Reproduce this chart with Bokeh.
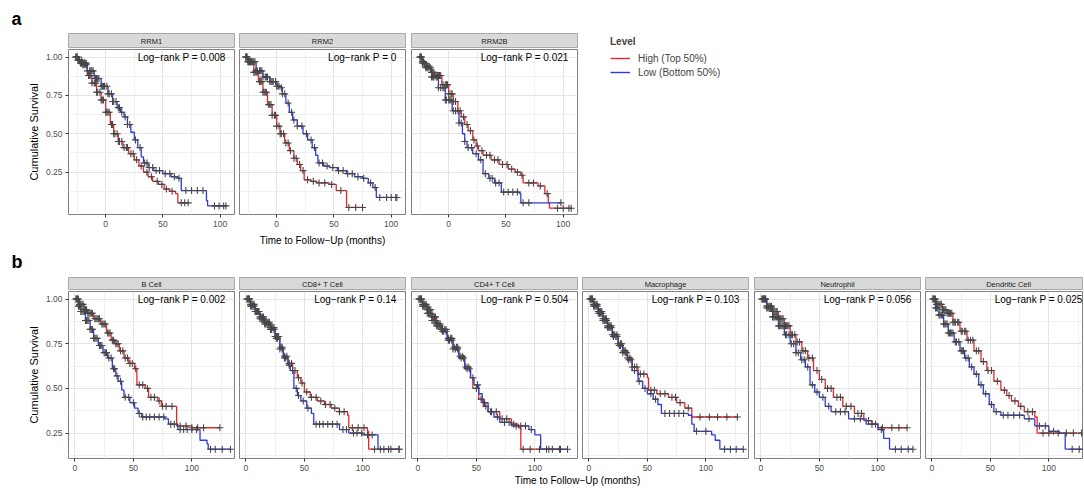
import numpy as np
from bokeh.plotting import figure
from bokeh.models import (Range1d, FixedTicker, NumeralTickFormatter, Label, Legend,
                          LegendItem, Spacer)
from bokeh.layouts import row, column
from bokeh.core.properties import value
from bokeh.embed import file_html
from bokeh.resources import INLINE

FONT = "Liberation Sans"
RED = "#e8262a"
BLUE = "#2c3be0"
CENSOR = "#474747"
BORDER = "#808080"

# ------------------------------------------------------------------ data
# Panel a : RRM genes (time axis starts below zero in the source figure)
RRM1_START = -27
RRM1_HIGH_T = [-24, -20, -16, -12, -8, -4, 0, 4, 7, 11, 15, 20, 25, 29, 33, 37, 41, 46, 51, 56, 61, 63]
RRM1_HIGH_S = [0.98, 0.95, 0.88, 0.83, 0.77, 0.72, 0.64, 0.56, 0.50, 0.45, 0.41, 0.37, 0.33, 0.29, 0.25, 0.22, 0.19, 0.17, 0.14, 0.125, 0.11, 0.05]
RRM1_HIGH_END = 72
RRM1_HIGH_CENS = [-26, -25, -24, -23, -21, -20, -19, -18, -17, -15, -14, -13, -12, -10, -9, -8, -7, -5, -4, -3, -2, 0, 1, 2, 3, 5, 6, 7, 8, 10, 11, 12, 14, 16, 18, 19, 22, 24, 27, 31, 36, 40, 45, 49, 53, 58, 66, 69, 72]
RRM1_LOW_T = [-24, -22, -16, -10, -4, 2, 6, 10, 13, 16, 19, 22, 25, 28, 31, 33, 37, 42, 50, 57, 63, 66, 88, 89]
RRM1_LOW_S = [0.98, 0.96, 0.91, 0.86, 0.81, 0.76, 0.71, 0.67, 0.64, 0.61, 0.56, 0.51, 0.46, 0.41, 0.35, 0.31, 0.28, 0.26, 0.24, 0.22, 0.21, 0.13, 0.065, 0.03]
RRM1_LOW_END = 105
RRM1_LOW_CENS = [-26, -25, -24, -23, -22, -21, -19, -18, -17, -16, -14, -13, -12, -11, -9, -8, -7, -6, -4, -3, -2, -1, 1, 2, 3, 5, 6, 7, 9, 11, 12, 14, 17, 19, 21, 26, 30, 34, 36, 38, 41, 44, 47, 52, 56, 60, 64, 70, 75, 80, 85, 95, 99, 103, 105]

RRM2_START = -28
RRM2_HIGH_T = [-25, -20, -16, -12, -8, -4, 0, 3, 7, 11, 15, 18, 21, 24, 30, 35, 46, 52, 61]
RRM2_HIGH_S = [0.97, 0.90, 0.84, 0.77, 0.69, 0.62, 0.55, 0.50, 0.44, 0.39, 0.34, 0.30, 0.26, 0.20, 0.19, 0.18, 0.17, 0.13, 0.02]
RRM2_HIGH_END = 75
RRM2_HIGH_CENS = [-27, -26, -25, -24, -23, -22, -21, -20, -19, -18, -17, -15, -14, -13, -12, -11, -10, -9, -7, -6, -5, -4, -2, -1, 0, 2, 3, 4, 6, 8, 10, 12, 15, 17, 20, 23, 27, 32, 37, 42, 48, 56, 63, 69, 75]
RRM2_LOW_T = [-25, -18, -12, -6, 0, 3, 5, 8, 11, 14, 18, 23, 27, 31, 34, 36, 41, 46, 53, 61, 68, 75, 80, 84, 87]
RRM2_LOW_S = [0.97, 0.91, 0.87, 0.84, 0.81, 0.80, 0.76, 0.70, 0.64, 0.59, 0.55, 0.50, 0.46, 0.41, 0.36, 0.31, 0.29, 0.28, 0.26, 0.24, 0.22, 0.21, 0.18, 0.15, 0.085]
RRM2_LOW_END = 105
RRM2_LOW_CENS = [-27, -26, -25, -24, -23, -22, -20, -19, -18, -17, -15, -14, -13, -12, -10, -9, -8, -6, -5, -4, -3, -1, 0, 1, 2, 4, 5, 7, 10, 13, 15, 18, 22, 26, 30, 33, 37, 40, 44, 49, 54, 58, 62, 66, 71, 76, 82, 86, 90, 96, 100, 104, 105]

RRM2B_START = -26
RRM2B_HIGH_T = [-23, -20, -16, -12, -6, 0, 4, 8, 11, 14, 17, 21, 24, 26, 30, 37, 44, 52, 58, 63, 65, 78, 84, 87, 88]
RRM2B_HIGH_S = [0.97, 0.94, 0.90, 0.88, 0.82, 0.76, 0.71, 0.65, 0.61, 0.56, 0.52, 0.46, 0.42, 0.39, 0.36, 0.33, 0.30, 0.27, 0.25, 0.23, 0.18, 0.16, 0.11, 0.05, 0.015]
RRM2B_HIGH_END = 107
RRM2B_HIGH_CENS = [-25, -24, -23, -22, -20, -19, -18, -17, -15, -14, -13, -12, -10, -9, -8, -7, -5, -3, -2, -1, 0, 2, 3, 4, 6, 8, 10, 13, 16, 19, 22, 25, 29, 33, 36, 40, 43, 47, 51, 55, 60, 64, 70, 74, 80, 86, 95, 100, 105, 107]
RRM2B_LOW_T = [-23, -20, -15, -9, -3, 3, 9, 12, 14, 16, 21, 26, 30, 35, 40, 46, 62, 63]
RRM2B_LOW_S = [0.96, 0.93, 0.87, 0.80, 0.72, 0.65, 0.57, 0.50, 0.45, 0.41, 0.37, 0.33, 0.24, 0.21, 0.18, 0.12, 0.11, 0.05]
RRM2B_LOW_END = 98
RRM2B_LOW_CENS = [-25, -24, -23, -21, -20, -19, -18, -16, -15, -14, -13, -11, -10, -9, -7, -5, -4, -3, -2, 0, 1, 2, 4, 6, 9, 11, 14, 17, 20, 24, 28, 32, 36, 38, 41, 44, 48, 52, 56, 60, 65, 70, 98]

# Panel b : immune cells
BCELL_HIGH_T = [4, 8, 11, 16, 22, 27, 31, 34, 38, 42, 46, 51, 53, 60, 63, 71, 74, 87, 100]
BCELL_HIGH_S = [0.97, 0.94, 0.92, 0.89, 0.86, 0.81, 0.77, 0.75, 0.71, 0.67, 0.64, 0.61, 0.52, 0.50, 0.45, 0.43, 0.40, 0.29, 0.28]
BCELL_HIGH_END = 124
BCELL_HIGH_CENS = [1, 2, 3, 4, 5, 6, 7, 8, 9, 10, 11, 12, 13, 14, 15, 17, 18, 19, 20, 21, 23, 24, 25, 26, 28, 29, 30, 32, 33, 35, 36, 37, 39, 41, 43, 45, 47, 49, 52, 55, 58, 62, 65, 68, 72, 75, 78, 83, 90, 95, 100, 105, 110, 124]
BCELL_LOW_T = [3, 5, 9, 13, 16, 20, 24, 28, 32, 35, 37, 40, 42, 47, 51, 54, 57, 77, 80, 88, 107, 113, 114]
BCELL_LOW_S = [0.96, 0.93, 0.88, 0.83, 0.78, 0.74, 0.70, 0.67, 0.61, 0.57, 0.54, 0.49, 0.45, 0.42, 0.39, 0.36, 0.34, 0.33, 0.30, 0.27, 0.21, 0.19, 0.16]
BCELL_LOW_END = 133
BCELL_LOW_CENS = [1, 2, 3, 4, 5, 6, 7, 8, 9, 10, 11, 12, 13, 14, 15, 16, 17, 18, 19, 21, 22, 23, 25, 26, 27, 29, 31, 33, 34, 36, 39, 43, 46, 50, 55, 58, 61, 64, 68, 72, 76, 82, 85, 90, 93, 96, 100, 104, 116, 120, 126, 133]

CD8_HIGH_T = [4, 8, 12, 16, 21, 25, 29, 32, 36, 40, 44, 47, 50, 55, 61, 67, 73, 80, 87, 88, 104, 105]
CD8_HIGH_S = [0.97, 0.93, 0.90, 0.87, 0.84, 0.79, 0.73, 0.68, 0.64, 0.60, 0.56, 0.53, 0.48, 0.45, 0.43, 0.41, 0.39, 0.37, 0.35, 0.28, 0.26, 0.16]
CD8_HIGH_END = 131
CD8_HIGH_CENS = [1, 2, 3, 4, 5, 6, 7, 8, 9, 10, 11, 12, 13, 14, 15, 16, 17, 18, 19, 20, 21, 22, 23, 24, 25, 26, 27, 28, 30, 31, 33, 35, 37, 39, 42, 45, 48, 52, 56, 60, 64, 68, 72, 76, 80, 84, 91, 96, 101, 110, 115, 122, 131]
CD8_LOW_T = [4, 8, 12, 16, 21, 25, 29, 32, 36, 38, 41, 44, 47, 52, 56, 58, 80, 88, 100, 113]
CD8_LOW_S = [0.96, 0.93, 0.89, 0.86, 0.83, 0.78, 0.72, 0.67, 0.63, 0.60, 0.50, 0.46, 0.43, 0.39, 0.36, 0.30, 0.27, 0.25, 0.24, 0.16]
CD8_LOW_END = 131
CD8_LOW_CENS = [1, 2, 3, 4, 5, 6, 7, 8, 9, 10, 11, 12, 13, 14, 15, 16, 17, 18, 19, 20, 21, 22, 24, 26, 27, 29, 31, 33, 34, 37, 40, 43, 45, 49, 53, 60, 63, 66, 70, 74, 78, 83, 86, 92, 95, 99, 104, 108, 118, 124, 131]

CD4_HIGH_T = [4, 8, 12, 16, 20, 25, 30, 35, 40, 45, 47, 52, 56, 60, 70, 80, 86, 88]
CD4_HIGH_S = [0.97, 0.94, 0.90, 0.86, 0.83, 0.78, 0.73, 0.68, 0.62, 0.56, 0.50, 0.44, 0.40, 0.37, 0.33, 0.30, 0.28, 0.16]
CD4_HIGH_END = 122
CD4_HIGH_CENS = [1, 2, 3, 4, 5, 6, 7, 8, 9, 10, 11, 12, 13, 14, 15, 16, 17, 18, 19, 20, 21, 23, 24, 26, 28, 29, 31, 33, 34, 36, 38, 41, 43, 50, 54, 58, 63, 67, 72, 76, 82, 90, 96, 104, 112, 122]
CD4_LOW_T = [4, 8, 12, 16, 20, 25, 30, 35, 40, 45, 48, 52, 55, 60, 65, 70, 80, 95, 100, 105]
CD4_LOW_S = [0.96, 0.92, 0.88, 0.85, 0.82, 0.77, 0.72, 0.67, 0.61, 0.56, 0.52, 0.47, 0.42, 0.37, 0.34, 0.31, 0.29, 0.27, 0.24, 0.16]
CD4_LOW_END = 128
CD4_LOW_CENS = [1, 2, 3, 4, 5, 6, 7, 8, 9, 10, 11, 12, 13, 14, 15, 16, 17, 18, 19, 21, 22, 24, 26, 27, 29, 30, 32, 34, 37, 39, 42, 44, 47, 51, 57, 62, 68, 74, 78, 84, 88, 92, 97, 110, 115, 121, 128]

MACRO_HIGH_T = [4, 8, 12, 16, 20, 25, 29, 33, 37, 42, 50, 51, 58, 68, 75, 82, 88]
MACRO_HIGH_S = [0.97, 0.93, 0.89, 0.85, 0.80, 0.75, 0.71, 0.67, 0.62, 0.58, 0.56, 0.49, 0.47, 0.45, 0.42, 0.39, 0.34]
MACRO_HIGH_END = 127
MACRO_HIGH_CENS = [1, 2, 3, 4, 5, 6, 7, 8, 9, 10, 11, 12, 13, 14, 15, 16, 17, 18, 19, 20, 21, 22, 24, 25, 27, 28, 30, 31, 33, 35, 37, 39, 41, 44, 47, 53, 56, 61, 65, 71, 74, 78, 85, 95, 103, 110, 118, 127]
MACRO_LOW_T = [4, 8, 12, 16, 20, 25, 29, 33, 37, 42, 46, 50, 55, 59, 62, 85, 88, 90, 105, 108, 112]
MACRO_LOW_S = [0.96, 0.92, 0.88, 0.84, 0.79, 0.74, 0.70, 0.66, 0.60, 0.54, 0.50, 0.47, 0.44, 0.41, 0.36, 0.35, 0.30, 0.26, 0.24, 0.21, 0.16]
MACRO_LOW_END = 132
MACRO_LOW_CENS = [1, 2, 3, 4, 5, 6, 7, 8, 9, 10, 11, 12, 13, 14, 15, 16, 17, 18, 19, 21, 23, 24, 26, 27, 29, 31, 32, 34, 36, 39, 43, 48, 53, 57, 65, 69, 73, 77, 81, 92, 100, 116, 121, 126, 132]

NEUT_HIGH_T = [5, 10, 15, 20, 25, 30, 35, 40, 45, 50, 55, 62, 70, 80, 88, 95, 100]
NEUT_HIGH_S = [0.96, 0.93, 0.89, 0.85, 0.80, 0.76, 0.71, 0.67, 0.60, 0.55, 0.50, 0.45, 0.40, 0.36, 0.32, 0.30, 0.28]
NEUT_HIGH_END = 125
NEUT_HIGH_CENS = [1, 2, 3, 4, 5, 6, 7, 8, 9, 10, 11, 12, 13, 14, 15, 16, 17, 18, 19, 20, 21, 22, 23, 24, 26, 27, 29, 31, 33, 36, 38, 41, 44, 48, 52, 57, 60, 65, 68, 73, 77, 83, 86, 92, 98, 104, 112, 118, 125]
NEUT_LOW_T = [5, 10, 15, 20, 25, 30, 34, 38, 42, 46, 50, 55, 60, 75, 90, 100, 105, 110]
NEUT_LOW_S = [0.95, 0.90, 0.85, 0.80, 0.75, 0.70, 0.66, 0.62, 0.52, 0.48, 0.45, 0.40, 0.37, 0.33, 0.30, 0.27, 0.22, 0.16]
NEUT_LOW_END = 130
NEUT_LOW_CENS = [1, 2, 3, 4, 5, 6, 7, 8, 9, 10, 11, 12, 13, 14, 15, 16, 17, 18, 19, 21, 22, 24, 26, 28, 30, 32, 35, 37, 40, 44, 48, 53, 58, 64, 68, 72, 80, 85, 95, 103, 115, 120, 126, 130]

DEND_HIGH_T = [4, 9, 13, 18, 24, 30, 36, 42, 47, 53, 59, 64, 68, 74, 79, 88, 90]
DEND_HIGH_S = [0.97, 0.94, 0.92, 0.87, 0.82, 0.77, 0.71, 0.65, 0.60, 0.54, 0.49, 0.46, 0.43, 0.40, 0.37, 0.34, 0.25]
DEND_HIGH_END = 128
DEND_HIGH_CENS = [1, 2, 3, 4, 5, 6, 7, 8, 9, 10, 11, 12, 13, 14, 15, 16, 17, 18, 19, 20, 22, 23, 25, 26, 28, 29, 31, 33, 35, 38, 40, 44, 48, 51, 56, 62, 66, 71, 76, 82, 86, 95, 100, 108, 115, 121, 128]
DEND_LOW_T = [3, 6, 10, 14, 19, 24, 28, 32, 36, 40, 44, 49, 53, 59, 79, 88, 100, 109, 114]
DEND_LOW_S = [0.95, 0.91, 0.86, 0.81, 0.76, 0.71, 0.67, 0.62, 0.58, 0.52, 0.47, 0.41, 0.37, 0.35, 0.33, 0.29, 0.26, 0.25, 0.16]
DEND_LOW_END = 131
DEND_LOW_CENS = [1, 2, 3, 4, 5, 6, 7, 8, 9, 10, 11, 12, 13, 14, 15, 16, 17, 18, 20, 21, 23, 25, 26, 27, 29, 31, 34, 38, 42, 46, 51, 55, 61, 65, 70, 75, 83, 92, 97, 104, 120, 126, 131]

PANEL_A_NAMES = ["RRM1", "RRM2", "RRM2B"]
PANEL_A_PVALS = ["0.008", "0", "0.021"]
PANEL_B_NAMES = ["B Cell", "CD8+ T Cell", "CD4+ T Cell", "Macrophage", "Neutrophil", "Dendritic Cell"]
PANEL_B_PVALS = ["0.002", "0.14", "0.504", "0.103", "0.056", "0.025"]

X_TICKS = [0, 50, 100]
X_MINOR_A = [-25, 25, 75]
X_MINOR_B = [25, 75, 125]
Y_TICKS = [0.25, 0.50, 0.75, 1.00]
Y_MINOR = [0.125, 0.375, 0.625, 0.875]
LEVEL_LABELS = ["High (Top 50%)", "Low (Bottom 50%)"]

A_XR = (-32.5, 112.5)
A_YR = (-0.026, 1.049)
B_XR = (-5.5, 136.5)
B_YR = (0.108, 1.042)


def curve(start, t, s, end, cens):
    return dict(start=start, t=t, s=s, end=end, cens=cens)


A_CURVES = [
    (curve(RRM1_START, RRM1_HIGH_T, RRM1_HIGH_S, RRM1_HIGH_END, RRM1_HIGH_CENS),
     curve(RRM1_START, RRM1_LOW_T, RRM1_LOW_S, RRM1_LOW_END, RRM1_LOW_CENS)),
    (curve(RRM2_START, RRM2_HIGH_T, RRM2_HIGH_S, RRM2_HIGH_END, RRM2_HIGH_CENS),
     curve(RRM2_START, RRM2_LOW_T, RRM2_LOW_S, RRM2_LOW_END, RRM2_LOW_CENS)),
    (curve(RRM2B_START, RRM2B_HIGH_T, RRM2B_HIGH_S, RRM2B_HIGH_END, RRM2B_HIGH_CENS),
     curve(RRM2B_START, RRM2B_LOW_T, RRM2B_LOW_S, RRM2B_LOW_END, RRM2B_LOW_CENS)),
]
B_CURVES = [
    (curve(0, BCELL_HIGH_T, BCELL_HIGH_S, BCELL_HIGH_END, BCELL_HIGH_CENS),
     curve(0, BCELL_LOW_T, BCELL_LOW_S, BCELL_LOW_END, BCELL_LOW_CENS)),
    (curve(0, CD8_HIGH_T, CD8_HIGH_S, CD8_HIGH_END, CD8_HIGH_CENS),
     curve(0, CD8_LOW_T, CD8_LOW_S, CD8_LOW_END, CD8_LOW_CENS)),
    (curve(0, CD4_HIGH_T, CD4_HIGH_S, CD4_HIGH_END, CD4_HIGH_CENS),
     curve(0, CD4_LOW_T, CD4_LOW_S, CD4_LOW_END, CD4_LOW_CENS)),
    (curve(0, MACRO_HIGH_T, MACRO_HIGH_S, MACRO_HIGH_END, MACRO_HIGH_CENS),
     curve(0, MACRO_LOW_T, MACRO_LOW_S, MACRO_LOW_END, MACRO_LOW_CENS)),
    (curve(0, NEUT_HIGH_T, NEUT_HIGH_S, NEUT_HIGH_END, NEUT_HIGH_CENS),
     curve(0, NEUT_LOW_T, NEUT_LOW_S, NEUT_LOW_END, NEUT_LOW_CENS)),
    (curve(0, DEND_HIGH_T, DEND_HIGH_S, DEND_HIGH_END, DEND_HIGH_CENS),
     curve(0, DEND_LOW_T, DEND_LOW_S, DEND_LOW_END, DEND_LOW_CENS)),
]

# ------------------------------------------------------------------ helpers
FW = 166          # facet frame width
YLAB_W = 68       # room for the y axis on the first facet


def base_fig(w, h, **kw):
    return figure(width=w, height=h, output_backend="svg", toolbar_location=None,
                  title=None, **kw)


def text_fig(w, h, x, y, txt, size, style="normal", align="center", baseline="middle"):
    p = base_fig(w, h, x_range=Range1d(0, w), y_range=Range1d(h, 0),
                 x_axis_location=None, y_axis_location=None,
                 min_border_left=0, min_border_right=0, min_border_top=0, min_border_bottom=0)
    p.outline_line_color = None
    p.grid.visible = False
    p.text(x=[x], y=[y], text=[txt], text_font=value(FONT), text_font_size=size,
           text_font_style=style, text_align=align, text_baseline=baseline, text_color="black")
    return p


def strip_fig(name, fw, lb, h):
    p = base_fig(lb + fw + 1, h, x_range=Range1d(0, fw), y_range=Range1d(0, 1),
                 x_axis_location=None, y_axis_location=None,
                 min_border_left=lb, min_border_right=1, min_border_top=1, min_border_bottom=0)
    p.background_fill_color = "#d9d9d9"
    p.outline_line_color = "#a8a8a8"
    p.grid.visible = False
    p.text(x=[FW / 2], y=[0.5], text=[name], text_font=value(FONT), text_font_size="7.5px",
           text_align="center", text_baseline="middle", text_color="#1a1a1a")
    return p


def km_fig(curves, pval, xr, yr, fw, fh, bottom, show_y, xminor, label_x):
    lb = YLAB_W if show_y else 1
    p = base_fig(lb + fw + 1, 1 + fh + bottom, x_range=Range1d(*xr), y_range=Range1d(*yr),
                 y_axis_location="left" if show_y else None,
                 min_border_left=lb, min_border_right=1, min_border_top=1,
                 min_border_bottom=bottom)
    p.outline_line_color = BORDER
    p.outline_line_width = 1
    p.xaxis.ticker = FixedTicker(ticks=X_TICKS, minor_ticks=xminor)
    p.xgrid.ticker = FixedTicker(ticks=X_TICKS, minor_ticks=xminor)
    p.ygrid.ticker = FixedTicker(ticks=Y_TICKS, minor_ticks=Y_MINOR)
    p.grid.grid_line_color = "#e4e4e4"
    p.grid.minor_grid_line_color = "#f0f0f0"
    axes = list(p.xaxis)
    if show_y:
        p.yaxis.ticker = FixedTicker(ticks=Y_TICKS, minor_ticks=Y_MINOR)
        p.yaxis.formatter = NumeralTickFormatter(format="0.00")
        p.yaxis.axis_label = "Cumulative Survival"
        p.yaxis.axis_label_text_font = FONT
        p.yaxis.axis_label_text_font_size = "11px"
        p.yaxis.axis_label_text_font_style = "normal"
        p.yaxis.axis_label_text_color = "black"
        p.yaxis.axis_label_standoff = 3
        axes += list(p.yaxis)
    for ax in axes:
        ax.axis_line_color = None
        ax.major_tick_line_color = "#333333"
        ax.major_tick_out = 3
        ax.major_tick_in = 0
        ax.minor_tick_line_color = None
        ax.major_label_text_font = FONT
        ax.major_label_text_font_size = "8.5px"
        ax.major_label_text_color = "#4d4d4d"
        ax.major_label_standoff = 2

    for c, color in zip(curves, [RED, BLUE]):
        t_all = np.array([c["start"]] + list(c["t"]), dtype=float)
        s_all = np.array([1.0] + list(c["s"]), dtype=float)
        xs = list(t_all) + [c["end"]]
        ys = list(s_all) + [s_all[-1]]
        p.step(x=xs, y=ys, mode="after", line_color=color, line_width=1.3)
    for c in curves:
        t_all = np.array([c["start"]] + list(c["t"]), dtype=float)
        s_all = np.array([1.0] + list(c["s"]), dtype=float)
        ct = np.array(c["cens"], dtype=float)
        cy = s_all[np.searchsorted(t_all, ct, side="right") - 1]
        p.scatter(x=ct, y=cy, marker="cross", size=7, line_color=CENSOR, line_width=1.1)

    p.add_layout(Label(x=label_x, y=1.0, text="Log\u2212rank P = " + pval,
                       text_font=FONT, text_font_size="10px", text_color="black",
                       text_align="right", text_baseline="middle"))
    return p


# ------------------------------------------------------------------ row a
A_STRIP_H, A_FH, A_BOTTOM = 16, 165, 17
a_ppu = FW / (A_XR[1] - A_XR[0])
a_cols = []
for i, (name, pv, cv) in enumerate(zip(PANEL_A_NAMES, PANEL_A_PVALS, A_CURVES)):
    show_y = i == 0
    lb = YLAB_W if show_y else 1
    st = strip_fig(name, FW, lb, A_STRIP_H)
    kp = km_fig(cv, pv, A_XR, A_YR, FW, A_FH, A_BOTTOM, show_y, X_MINOR_A,
                A_XR[1] - 9 / a_ppu)
    a_cols.append(column(st, kp, spacing=0))

# legend
leg_fig = base_fig(220, A_STRIP_H + 1 + A_FH + A_BOTTOM, x_range=Range1d(0, 1), y_range=Range1d(0, 1),
                   x_axis_location=None, y_axis_location=None,
                   min_border_left=32, min_border_top=4, min_border_right=0, min_border_bottom=0)
leg_fig.outline_line_color = None
leg_fig.grid.visible = False
r_hi = leg_fig.line(x=[np.nan], y=[np.nan], line_color=RED, line_width=1.4)
r_lo = leg_fig.line(x=[np.nan], y=[np.nan], line_color=BLUE, line_width=1.4)
legend = Legend(items=[LegendItem(label=LEVEL_LABELS[0], renderers=[r_hi]),
                       LegendItem(label=LEVEL_LABELS[1], renderers=[r_lo])],
                location="top_left", title="Level",
                title_text_font=FONT, title_text_font_size="10px", title_text_font_style="bold",
                title_standoff=4, label_text_font=FONT, label_text_font_size="10px",
                glyph_width=20, glyph_height=14, label_height=14, label_standoff=8,
                spacing=0, padding=0, margin=0, border_line_color=None,
                background_fill_alpha=0)
leg_fig.add_layout(legend)

row_a = row(a_cols[0], Spacer(width=3, height=10), a_cols[1], Spacer(width=4, height=10),
            a_cols[2], leg_fig, spacing=0)

# ------------------------------------------------------------------ row b
B_STRIP_H, B_FH, B_BOTTOM = 14, 167, 15
b_ppu = FW / (B_XR[1] - B_XR[0])
gaps = [3, 4, 3, 4, 3]
b_items = []
for i, (name, pv, cv) in enumerate(zip(PANEL_B_NAMES, PANEL_B_PVALS, B_CURVES)):
    show_y = i == 0
    lb = YLAB_W if show_y else 1
    fw = FW
    xr = B_XR
    if i == len(PANEL_B_NAMES) - 1:
        fw = 157                                   # last facet is cut by the page edge
        xr = (B_XR[0], B_XR[0] + fw / b_ppu)
    st = strip_fig(name, fw, lb, B_STRIP_H)
    kp = km_fig(cv, pv, xr, B_YR, fw, B_FH, B_BOTTOM, show_y, X_MINOR_B,
                B_XR[1] - 9 / b_ppu)
    b_items.append(column(st, kp, spacing=0))
    if i < len(gaps):
        b_items.append(Spacer(width=gaps[i], height=10))
row_b = row(*b_items, spacing=0)

# ------------------------------------------------------------------ texts
lab_a = text_fig(60, 32, 11, 18, "a", "18px", style="bold", align="left", baseline="middle")
xt_a = text_fig(578, 15, 322, 9, "Time to Follow\u2212Up (months)", "10px")
lab_b = text_fig(60, 30, 11, 15, "b", "18px", style="bold", align="left", baseline="middle")
xt_b = text_fig(1083, 14, 577, 7, "Time to Follow\u2212Up (months)", "10px")

page = column(lab_a, row_a, xt_a, lab_b, row_b, xt_b, spacing=0)

open("out.html", "w").write(file_html(page, INLINE))
